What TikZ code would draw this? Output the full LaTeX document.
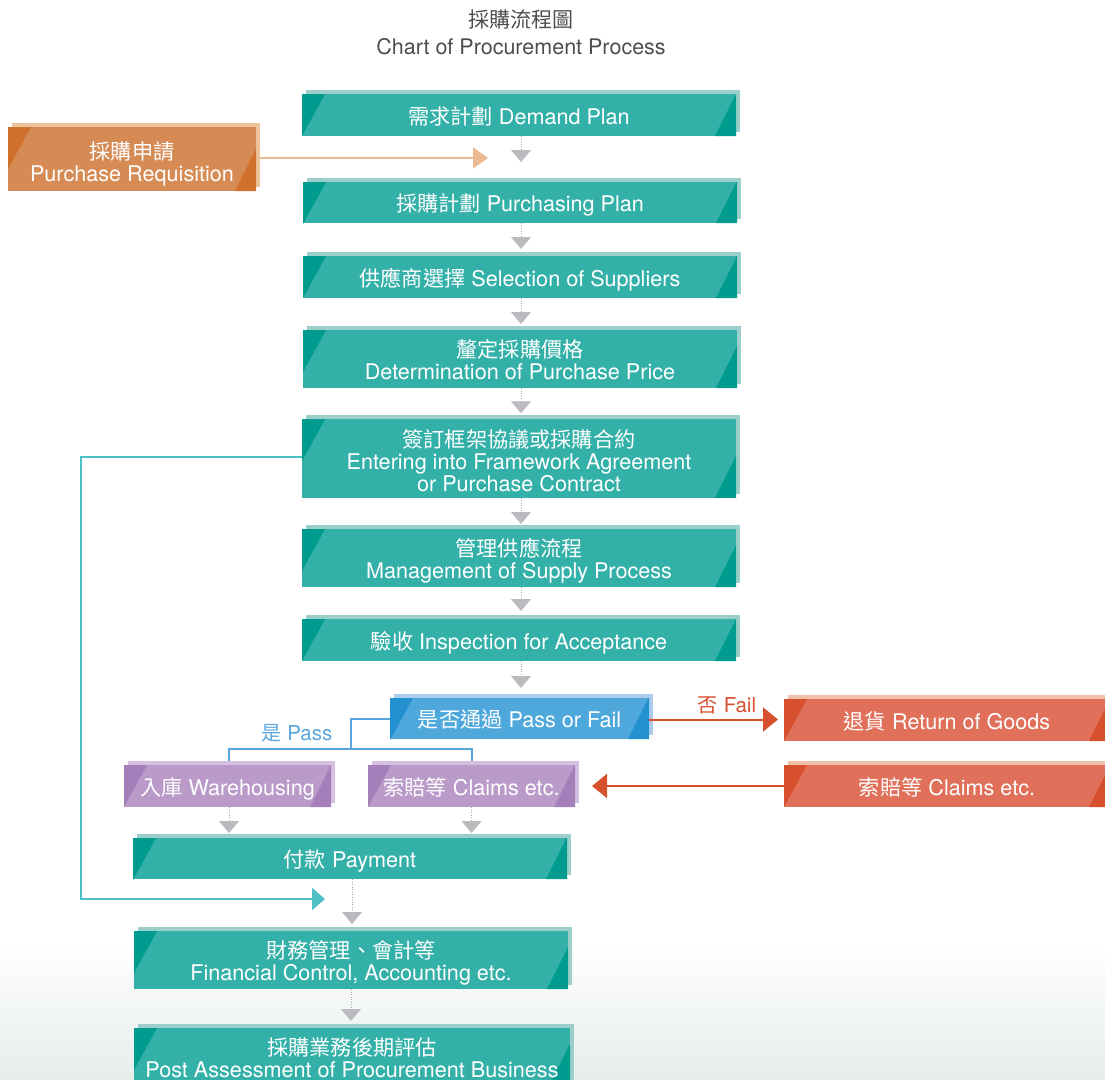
\documentclass[tikz,border=0pt]{standalone}
\usepackage{fontspec}
\setmainfont{TeX Gyre Heros}
\newfontfamily\cjk[Scale=0.98]{Noto Sans CJK TC}
\usetikzlibrary{shadows,arrows.meta,calc}
\newcommand\toprule{\rule{0pt}{24pt}}
\newcommand\tallrule{\rule{0pt}{28.5pt}}
\newcommand\botrule{\rule[-6pt]{0pt}{6pt}}
\definecolor{tealF}{HTML}{33B0A8}
\definecolor{tealD}{HTML}{009B8F}
\definecolor{tealS}{HTML}{9CCFCB}
\definecolor{oraF}{HTML}{D68B55}
\definecolor{oraD}{HTML}{CF712C}
\definecolor{oraS}{HTML}{EDC39C}
\definecolor{bluF}{HTML}{4FA8DC}
\definecolor{bluD}{HTML}{2390D0}
\definecolor{bluS}{HTML}{AACDEE}
\definecolor{redF}{HTML}{E0705A}
\definecolor{redD}{HTML}{D6502E}
\definecolor{redS}{HTML}{F1C0A9}
\definecolor{purF}{HTML}{B99AC8}
\definecolor{purD}{HTML}{A57FBA}
\definecolor{purS}{HTML}{D5C0E1}
\definecolor{greyTip}{HTML}{BBBBBF}
\definecolor{greyDot}{HTML}{A8A8AC}
\definecolor{tealLine}{HTML}{4DBFC5}
\definecolor{oraLine}{HTML}{EBB992}
\definecolor{bluLine}{HTML}{5AA6DC}
\definecolor{redLine}{HTML}{D6502E}
\definecolor{titleGrey}{HTML}{4D4D4D}
\definecolor{bgBottom}{HTML}{E6EEEA}
\tikzset{
  x=1pt, y=-1pt,
  pbox/.style n args={3}{draw=none, fill=#1, inner sep=0pt, outer sep=0pt,
    text=white, align=center, font=\fontsize{21.6}{22}\selectfont,
    general shadow={fill=#3, shadow xshift=4pt, shadow yshift=4pt},
    path picture={
      \fill[#2] (path picture bounding box.north west) -- ++(23pt,0pt) -- ++(-23pt,-42pt) -- cycle;
      \fill[#2] (path picture bounding box.south east) -- ++(-21pt,0pt) -- ++(21pt,42pt) -- cycle;
    }},
  tbox/.style={pbox={tealF}{tealD}{tealS}, minimum width=434pt},
  obox/.style={pbox={oraF}{oraD}{oraS}},
  bbox/.style={pbox={bluF}{bluD}{bluS}},
  rbox/.style={pbox={redF}{redD}{redS}},
  vbox/.style={pbox={purF}{purD}{purS}},
  garrow/.style={draw=greyDot, line width=0.9pt, dash pattern=on 1pt off 1.5pt,
    -{Triangle[length=12pt,width=20pt,fill=greyTip,color=greyTip]}},
  oline/.style={draw=oraLine, line width=2pt, -{Triangle[length=15pt,width=21pt,fill=oraLine]}},
  tline/.style={draw=tealLine, line width=2pt, -{Triangle[length=13pt,width=22pt,fill=tealLine]}},
  bline/.style={draw=bluLine, line width=2pt},
  rline/.style={draw=redLine, line width=2pt, -{Triangle[length=15pt,width=24pt,fill=redLine]}},
  lbl/.style={font=\fontsize{20.5}{22}\selectfont, inner sep=0pt},
}
\begin{document}
\begin{tikzpicture}
\clip (0,0) rectangle (1105,1079);
\shade[top color=white, bottom color=bgBottom] (0,940) rectangle (1105,1079);

% title
\node[lbl, text=titleGrey, align=center, font=\fontsize{21.5}{27}\selectfont] (title) at (521,32)
  {{\cjk 採購流程圖}\\Chart of Procurement Process};

% main column
\node[tbox, minimum height=42pt] (b1) at (519,115) {\toprule{\cjk 需求計劃} Demand Plan\botrule};
\node[tbox, minimum height=41pt] (b2) at (520,202.5) {\toprule{\cjk 採購計劃} Purchasing Plan\botrule};
\node[tbox, minimum height=42pt] (b3) at (520,277) {\toprule{\cjk 供應商選擇} Selection of Suppliers\botrule};
\node[tbox, minimum height=58pt] (b4) at (520,359) {\toprule{\cjk 釐定採購價格}\\Determination of Purchase Price\botrule};
\node[tbox, minimum height=77pt] (b5) at (519,458.5) {\tallrule{\cjk 簽訂框架協議或採購合約}\\Entering into Framework Agreement\\or Purchase Contract\botrule};
\node[tbox, minimum height=58pt] (b6) at (519,558) {\toprule{\cjk 管理供應流程}\\Management of Supply Process\botrule};
\node[tbox, minimum height=42pt] (b7) at (519,640) {\toprule{\cjk 驗收} Inspection for Acceptance\botrule};
\node[bbox, minimum width=259pt, minimum height=41pt] (b8) at (519.5,718.5) {\toprule{\cjk 是否通過} Pass or Fail\botrule};

% side boxes
\node[obox, minimum width=248pt, minimum height=64pt] (req) at (132,159) {\tallrule{\cjk 採購申請}\\Purchase Requisition\botrule};
\node[rbox, minimum width=326pt, minimum height=42pt] (rg) at (947,720) {\toprule{\cjk 退貨} Return of Goods\botrule};
\node[rbox, minimum width=326pt, minimum height=42pt] (rc) at (947,786) {\toprule{\cjk 索賠等} Claims etc.\botrule};
\node[vbox, minimum width=207pt, minimum height=42pt] (wh) at (227.5,786) {\toprule{\cjk 入庫} Warehousing\botrule};
\node[vbox, minimum width=207pt, minimum height=42pt] (pc) at (471.5,786) {\toprule{\cjk 索賠等} Claims etc.\botrule};

% lower column
\node[tbox, minimum height=41pt] (pay) at (350,858.5) {\toprule{\cjk 付款} Payment\botrule};
\node[tbox, minimum height=58pt] (fin) at (351,960) {\toprule{\cjk 財務管理、會計等}\\Financial Control, Accounting etc.\botrule};
\node[tbox, minimum width=436pt, minimum height=58pt] (post) at (352,1057) {\toprule{\cjk 採購業務後期評估}\\Post Assessment of Procurement Business\botrule};

% grey flow arrows
\draw[garrow, shorten >=20pt] ([xshift=2pt]b1.south) -- ([xshift=2pt]b1.south |- b2.north);
\draw[garrow, shorten >=7pt] ([xshift=1pt]b2.south) -- ([xshift=1pt]b2.south |- b3.north);
\draw[garrow, shorten >=6pt] ([xshift=1pt]b3.south) -- ([xshift=1pt]b3.south |- b4.north);
\draw[garrow, shorten >=6pt] ([xshift=1pt]b4.south) -- ([xshift=1pt]b4.south |- b5.north);
\draw[garrow, shorten >=5pt] ([xshift=2pt]b5.south) -- ([xshift=2pt]b5.south |- b6.north);
\draw[garrow, shorten >=8pt] ([xshift=2pt]b6.south) -- ([xshift=2pt]b6.south |- b7.north);
\draw[garrow, shorten >=10pt] ([xshift=2pt]b7.south) -- ([xshift=2pt]b7.south |- b8.north);
\draw[garrow, shorten >=5pt] ([xshift=1.5pt]wh.south) -- ([xshift=1.5pt]wh.south |- pay.north);
\draw[garrow, shorten >=5pt] (pc.south) -- (pc.south |- pay.north);
\draw[garrow, shorten >=7pt] ([xshift=2pt]pay.south) -- ([xshift=2pt]pay.south |- fin.north);
\draw[garrow, shorten >=7pt] (fin.south) -- (fin.south |- post.north);

% orange requisition arrow
\coordinate (reqend) at (488,158);
\draw[oline] (req.east |- reqend) -- (reqend);

% teal feedback line
\coordinate (tend) at (325,899);
\draw[tline] ([yshift=2pt]b5.west) -| ($(tend)+(-244pt,0pt)$) -- (tend);

% pass branch
\coordinate (bj) at (351,749);
\draw[bline] (b8.west) -| (bj);
\draw[bline, shorten <=4pt, shorten >=4pt] ([xshift=1.5pt]wh.north) |- (bj) -| (pc.north);
\node[lbl, text=bluLine] (passlbl) at (297,733) {{\cjk 是} Pass};

% fail branch
\draw[rline, shorten >=6pt] ([yshift=-1pt]b8.east) -- ([yshift=-1pt]b8.east -| rg.west);
\node[lbl, text=redLine] (faillbl) at (727,705) {{\cjk 否} Fail};
\draw[rline, shorten >=17pt] (rc.west) -- (rc.west -| pc.east);
\end{tikzpicture}
\end{document}
